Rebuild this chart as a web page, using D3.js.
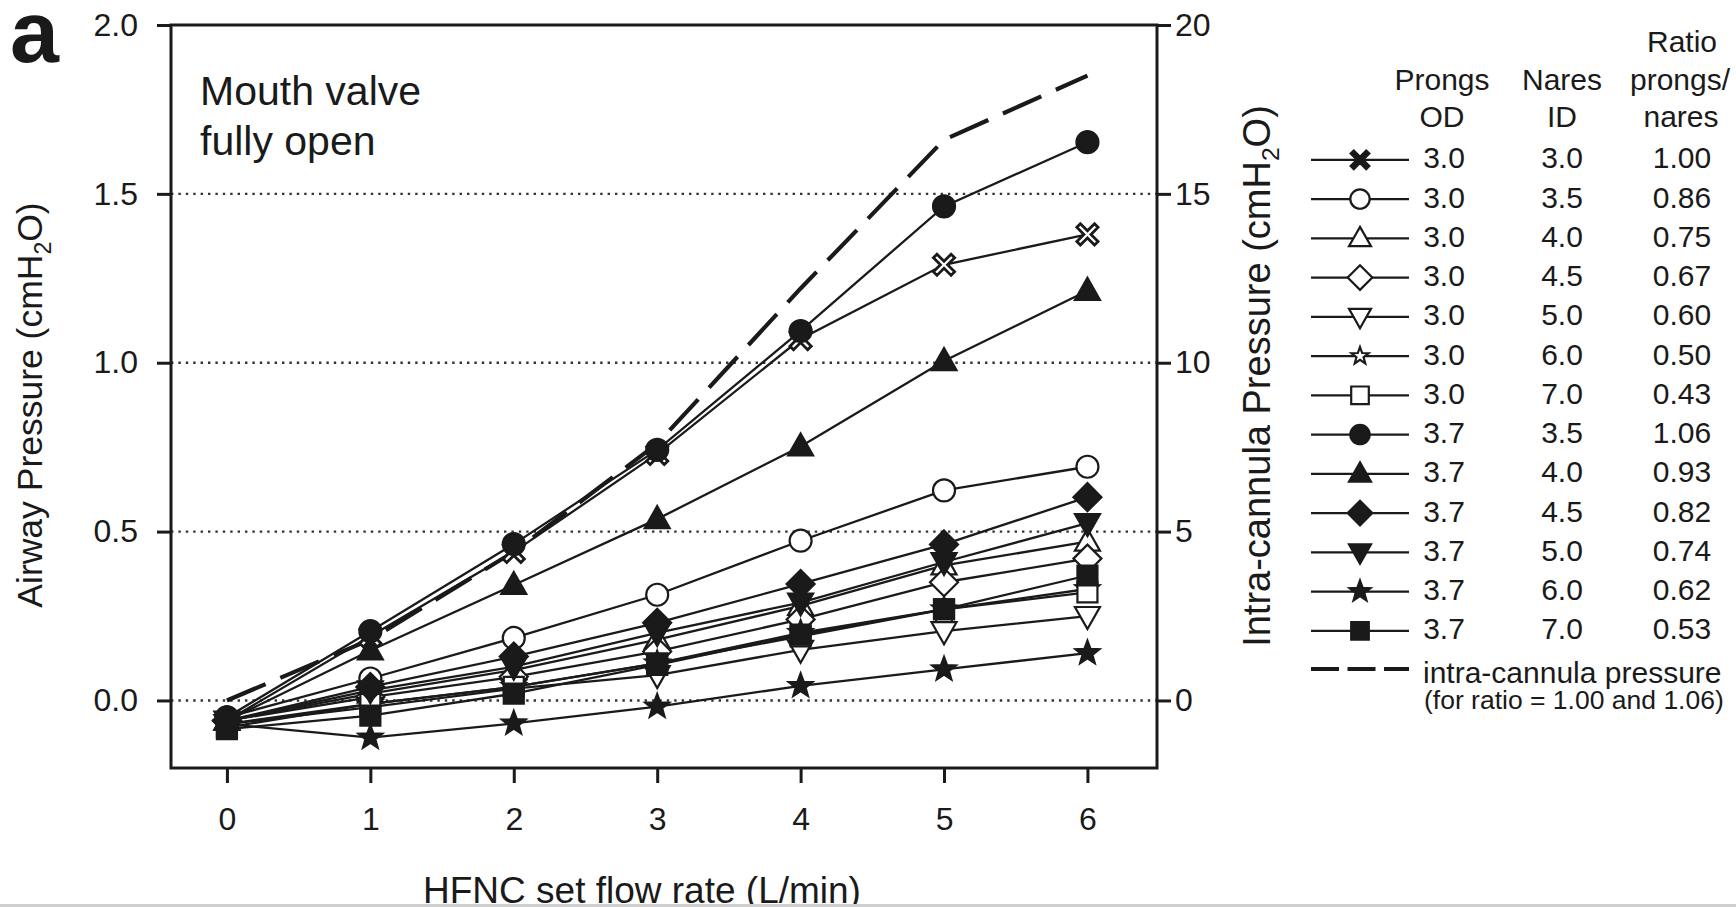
<!DOCTYPE html>
<html>
<head>
<meta charset="utf-8">
<script src="https://cdn.jsdelivr.net/npm/d3@7"></script>
<style>
  body { margin: 0; background: #fff; }
  svg { display: block; }
  text { font-family: "Liberation Sans", Arial, Helvetica, sans-serif; fill: #1a1a1a; }
</style>
</head>
<body>
<svg id="chart" width="1736" height="907"></svg>
<script>
// HFNC set flow rate (L/min)
const flowRates = [0, 1, 2, 3, 4, 5, 6];

// Cannula / nares combinations
const prongsOD = ["3.0", "3.0", "3.0", "3.0", "3.0", "3.0", "3.0", "3.7", "3.7", "3.7", "3.7", "3.7", "3.7"];
const naresID  = ["3.0", "3.5", "4.0", "4.5", "5.0", "6.0", "7.0", "3.5", "4.0", "4.5", "5.0", "6.0", "7.0"];
const ratios   = ["1.00", "0.86", "0.75", "0.67", "0.60", "0.50", "0.43", "1.06", "0.93", "0.82", "0.74", "0.62", "0.53"];
const markerShapes = ["cross", "circle", "triangle", "diamond", "triangleDown", "star", "square",
                      "circle", "triangle", "diamond", "triangleDown", "star", "square"];
const markerFilled = [false, false, false, false, false, false, false, true, true, true, true, true, true];

// Airway pressure (cmH2O) per combination
const p30n30 = [-0.06, 0.19, 0.44, 0.73, 1.07, 1.29, 1.38];
const p30n35 = [-0.05, 0.065, 0.185, 0.313, 0.473, 0.622, 0.692];
const p30n40 = [-0.06, 0.02, 0.09, 0.18, 0.28, 0.40, 0.47];
const p30n45 = [-0.06, 0.01, 0.07, 0.145, 0.24, 0.35, 0.42];
const p30n50 = [-0.07, -0.02, 0.035, 0.075, 0.15, 0.205, 0.25];
const p30n60 = [-0.07, -0.01, 0.04, 0.11, 0.20, 0.27, 0.33];
const p30n70 = [-0.08, -0.01, 0.04, 0.11, 0.19, 0.27, 0.32];
const p37n35 = [-0.05, 0.205, 0.463, 0.742, 1.094, 1.463, 1.653];
const p37n40 = [-0.06, 0.148, 0.342, 0.537, 0.752, 1.005, 1.213];
const p37n45 = [-0.06, 0.04, 0.13, 0.23, 0.345, 0.462, 0.602];
const p37n50 = [-0.06, 0.03, 0.10, 0.20, 0.29, 0.41, 0.525];
const p37n60 = [-0.07, -0.11, -0.068, -0.018, 0.043, 0.092, 0.14];
const p37n70 = [-0.085, -0.045, 0.02, 0.105, 0.195, 0.27, 0.37];

// Intra-cannula pressure (cmH2O), right axis
const intraCannula = [0.0, 1.8, 4.4, 7.6, 12.2, 16.6, 18.5];

const leftTicks = [0, 0.5, 1.0, 1.5, 2.0];
const rightTicks = [0, 5, 10, 15, 20];
const gridValues = [0, 0.5, 1.0, 1.5];

const seriesValues = [p30n30, p30n35, p30n40, p30n45, p30n50, p30n60, p30n70,
                      p37n35, p37n40, p37n45, p37n50, p37n60, p37n70];
const series = seriesValues.map((vals, i) => ({
  values: vals, shape: markerShapes[i], filled: markerFilled[i],
  od: prongsOD[i], id: naresID[i], ratio: ratios[i]
}));

const svg = d3.select("#chart");
const ink = "#1a1a1a";

const plot = { left: 171, top: 25, right: 1157, bottom: 768 };
const x = d3.scaleLinear().domain([-0.39, 6.485]).range([plot.left, plot.right]);
const y = d3.scaleLinear().domain([-0.2, 2.0]).range([plot.bottom, plot.top]);
const yRight = d3.scaleLinear().domain([-2, 20]).range([plot.bottom, plot.top]);

// Marker outlines
function markerPath(shape, k) {
  const p = d3.path();
  const poly = pts => { p.moveTo(pts[0][0] * k, pts[0][1] * k); pts.slice(1).forEach(q => p.lineTo(q[0] * k, q[1] * k)); p.closePath(); };
  if (shape === "circle") {
    p.moveTo(11 * k, 0); p.arc(0, 0, 11 * k, 0, 2 * Math.PI); p.closePath();
  } else if (shape === "square") {
    poly([[-10, -10], [10, -10], [10, 10], [-10, 10]]);
  } else if (shape === "triangle") {
    poly([[0, -13], [12.5, 9], [-12.5, 9]]);
  } else if (shape === "triangleDown") {
    poly([[0, 13], [12.5, -9], [-12.5, -9]]);
  } else if (shape === "diamond") {
    poly([[0, -14], [14, 0], [0, 14], [-14, 0]]);
  } else if (shape === "star") {
    const pts = [];
    for (let j = 0; j < 10; j++) {
      const r = j % 2 === 0 ? 12.5 : 5.2;
      const a = -Math.PI / 2 + j * Math.PI / 5;
      pts.push([r * Math.cos(a), r * Math.sin(a)]);
    }
    poly(pts);
  } else if (shape === "cross") {
    const a = 2.5, L = 12.5;
    const plus = [[-a, -L], [a, -L], [a, -a], [L, -a], [L, a], [a, a], [a, L], [-a, L], [-a, a], [-L, a], [-L, -a], [-a, -a]];
    const c = Math.SQRT1_2;
    poly(plus.map(([u, v]) => [u * c - v * c, u * c + v * c]));
  }
  return p.toString();
}

// Gridlines
svg.append("g").selectAll("line").data(gridValues).join("line")
  .attr("x1", plot.left).attr("x2", plot.right)
  .attr("y1", d => y(d)).attr("y2", d => y(d))
  .attr("stroke", "#333").attr("stroke-width", 2.4).attr("stroke-dasharray", "2.4,5");

// Axes
const axisFont = 32;
const gl = svg.append("g").attr("transform", `translate(${plot.left},0)`)
  .call(d3.axisLeft(y).tickValues(leftTicks).tickSize(14).tickPadding(19).tickSizeOuter(0).tickFormat(d3.format(".1f")));
const gr = svg.append("g").attr("transform", `translate(${plot.right},0)`)
  .call(d3.axisRight(yRight).tickValues(rightTicks).tickSize(14).tickPadding(4).tickSizeOuter(0).tickFormat(d3.format("d")));
const gb = svg.append("g").attr("transform", `translate(0,${plot.bottom})`)
  .call(d3.axisBottom(x).tickValues(flowRates).tickSize(15).tickPadding(24).tickSizeOuter(0).tickFormat(d3.format("d")));
[gl, gr, gb].forEach(g => {
  g.select(".domain").remove();
  g.selectAll(".tick line").attr("stroke", ink).attr("stroke-width", 3);
  g.selectAll(".tick text").attr("font-size", axisFont).attr("fill", ink)
    .style("font-family", "'Liberation Sans', Arial, Helvetica, sans-serif");
});

// Plot frame
svg.append("rect")
  .attr("x", plot.left).attr("y", plot.top)
  .attr("width", plot.right - plot.left).attr("height", plot.bottom - plot.top)
  .attr("fill", "none").attr("stroke", ink).attr("stroke-width", 3);

// Intra-cannula pressure (dashed)
const line = d3.line().x((d, i) => x(flowRates[i]));
svg.append("path")
  .attr("d", line.y(d => yRight(d))(intraCannula))
  .attr("fill", "none").attr("stroke", ink).attr("stroke-width", 4.2)
  .attr("stroke-dasharray", "42,16");

// Airway pressure lines
const lineL = d3.line().x((d, i) => x(flowRates[i])).y(d => y(d));
svg.append("g").selectAll("path").data(series).join("path")
  .attr("d", s => lineL(s.values))
  .attr("fill", "none").attr("stroke", ink).attr("stroke-width", 2.3);

// Markers
series.forEach(s => {
  svg.append("g").selectAll("path").data(s.values).join("path")
    .attr("transform", (d, i) => `translate(${x(flowRates[i])},${y(d)})`)
    .attr("d", markerPath(s.shape, 1))
    .attr("fill", s.filled ? ink : "#fff")
    .attr("stroke", ink).attr("stroke-width", s.shape === "cross" ? 2.8 : 2.2).attr("stroke-linejoin", "miter");
});

// Panel letter and annotation
svg.append("text").attr("x", 10).attr("y", 62).attr("font-size", 88).attr("font-weight", "bold").text("a");
svg.append("text").attr("x", 200).attr("y", 105).attr("font-size", 41).text("Mouth valve");
svg.append("text").attr("x", 200).attr("y", 155).attr("font-size", 41).text("fully open");

// Axis titles
function unitTitle(g, label, size) {
  const t = g.append("text").attr("text-anchor", "middle").attr("font-size", size);
  t.append("tspan").text(label + " (cmH");
  t.append("tspan").attr("font-size", size * 0.65).attr("dy", size * 0.24).text("2");
  t.append("tspan").attr("dy", -size * 0.24).text("O)");
}
unitTitle(svg.append("g").attr("transform", "translate(42,405) rotate(-90)"), "Airway Pressure", 35.5);
unitTitle(svg.append("g").attr("transform", "translate(1270,376) rotate(-90)"), "Intra-cannula Pressure", 38);
svg.append("text").attr("x", 642).attr("y", 903).attr("text-anchor", "middle").attr("font-size", 37)
  .text("HFNC set flow rate (L/min)");

// Legend
const lg = svg.append("g");
const colOD = 1444, colID = 1562, colRatio = 1682;
const legFont = 30;
[["Ratio", colRatio, 52], ["Prongs", colOD - 2, 90], ["Nares", colID, 90], ["prongs/", colRatio - 2, 90],
 ["OD", colOD - 2, 127], ["ID", colID, 127], ["nares", colRatio - 1, 127]].forEach(([t, cx, by]) => {
  lg.append("text").attr("x", cx).attr("y", by).attr("text-anchor", "middle").attr("font-size", legFont).text(t);
});
const rowBase = 168.3, rowStep = 39.25;
series.forEach((s, i) => {
  const by = rowBase + i * rowStep;
  const ly = by - 8.5;
  lg.append("line").attr("x1", 1311).attr("x2", 1409).attr("y1", ly).attr("y2", ly)
    .attr("stroke", ink).attr("stroke-width", 2.3);
  const legendFill = s.filled || s.shape === "cross";
  lg.append("path").attr("transform", `translate(1360,${ly})`)
    .attr("d", markerPath(s.shape, s.shape === "star" && !s.filled ? 0.72 : 0.88))
    .attr("fill", legendFill ? ink : "#fff").attr("stroke", ink).attr("stroke-width", 2.2);
  [[s.od, colOD], [s.id, colID], [s.ratio, colRatio]].forEach(([t, cx]) => {
    lg.append("text").attr("x", cx).attr("y", by).attr("text-anchor", "middle").attr("font-size", legFont).text(t);
  });
});
lg.append("line").attr("x1", 1311).attr("x2", 1409).attr("y1", 669).attr("y2", 669)
  .attr("stroke", ink).attr("stroke-width", 4.2).attr("stroke-dasharray", "28,8.5");
lg.append("text").attr("x", 1423).attr("y", 683).attr("font-size", legFont).text("intra-cannula pressure");
lg.append("text").attr("x", 1424).attr("y", 709).attr("font-size", 26.5).text("(for ratio = 1.00 and 1.06)");

// Lower page edge
svg.append("rect").attr("x", 0).attr("y", 904).attr("width", 1736).attr("height", 3).attr("fill", "#cfcfcf");
</script>
</body>
</html>
